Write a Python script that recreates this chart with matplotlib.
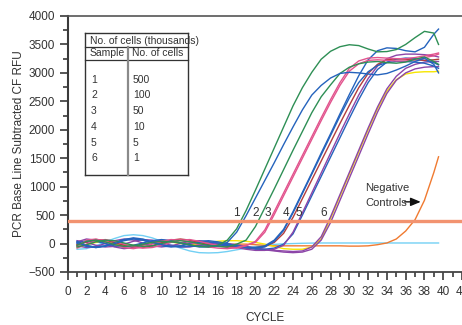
import matplotlib
matplotlib.use("Agg")
import matplotlib.pyplot as plt
from matplotlib.lines import Line2D
from matplotlib.ticker import MultipleLocator

plt.rcParams['font.family'] = ['Liberation Sans Narrow', 'Liberation Sans', 'DejaVu Sans']

# ---------------- data ----------------
CYCLES = list(range(1, 40)) + [39.5]

G1 = [-30, 40, 60, 30, -20, -50, -40, -10, 20, 40, 30, 10, -20, -50, -60, -30,
      60, 260, 580, 940, 1310, 1680, 2050, 2420, 2740, 3010, 3240, 3380, 3460, 3495,
      3480, 3420, 3370, 3375, 3410, 3500, 3620, 3730, 3700, 3500]
B1 = [20, -40, -60, -40, 0, 50, 80, 60, 20, -20, -50, -60, -50, -40, -50, -40,
      20, 200, 490, 800, 1110, 1420, 1740, 2050, 2350, 2610, 2780, 2910, 2990, 3010,
      3000, 2980, 2965, 2990, 3050, 3120, 3200, 3260, 3150, 3000]
G2 = [-60, -20, 30, 60, 50, 10, -30, -50, -40, 0, 40, 50, 30, 0, -30, -50,
      -60, -10, 60, 300, 630, 960, 1300, 1640, 1970, 2300, 2580, 2790, 2990, 3100,
      3160, 3190, 3200, 3180, 3170, 3190, 3240, 3280, 3200, 3150]
P1 = [-80, -10, 50, 70, 40, -10, -60, -80, -70, -30, 20, 60, 70, 40, 0, -40,
      -70, -80, -40, 40, 240, 560, 890, 1220, 1550, 1880, 2210, 2530, 2830, 3080,
      3210, 3260, 3270, 3260, 3250, 3250, 3270, 3300, 3330, 3350]
P2 = [-50, 60, 80, 40, -20, -70, -90, -60, -10, 40, 70, 60, 20, -20, -60, -80,
      -90, -70, -30, 20, 200, 510, 840, 1170, 1500, 1830, 2160, 2480, 2780, 3030,
      3160, 3220, 3230, 3220, 3210, 3210, 3230, 3270, 3300, 3330]
B2 = [40, -30, -70, -50, 10, 70, 100, 80, 30, -20, -50, -40, -10, 20, 30, 10,
      -20, -50, -70, -70, -40, 60, 250, 560, 900, 1240, 1590, 1930, 2280, 2620,
      2950, 3230, 3390, 3440, 3430, 3390, 3370, 3450, 3680, 3770]
B3 = [10, 50, 40, 0, -40, -60, -30, 10, 50, 70, 50, 10, -30, -60, -60, -40,
      -30, -40, -60, -80, -60, 40, 230, 540, 880, 1220, 1560, 1900, 2240, 2560,
      2830, 3020, 3130, 3180, 3200, 3200, 3190, 3170, 3120, 3080]
R1 = [-20, 30, 70, 60, 20, -30, -60, -70, -40, 10, 60, 80, 60, 20, -20, -40,
      -50, -60, -70, -70, -50, 20, 180, 460, 790, 1120, 1450, 1780, 2110, 2430,
      2740, 2990, 3150, 3230, 3250, 3240, 3230, 3220, 3230, 3240]
B4 = [0, -50, -70, -40, 20, 70, 90, 60, 10, -40, -60, -40, 0, 40, 50, 30,
      0, -40, -80, -100, -100, -80, -10, 170, 500, 840, 1180, 1520, 1860, 2200,
      2530, 2830, 3060, 3190, 3240, 3260, 3250, 3220, 3180, 3140]
PU1 = [30, 80, 60, 0, -60, -90, -70, -20, 30, 60, 50, 10, -30, -50, -40, -20,
       -40, -70, -100, -120, -120, -100, -30, 200, 540, 890, 1240, 1590, 1940, 2280,
       2610, 2900, 3120, 3250, 3310, 3330, 3330, 3320, 3300, 3280]
Y1 = [-60, -20, 20, 30, 10, -20, -30, -10, 20, 40, 30, 0, -20, -10, 20, 40,
      50, 50, 40, 20, -10, -50, -90, -100, -100, -60, 80, 440, 830, 1220,
      1610, 2000, 2370, 2680, 2880, 2980, 3010, 3020, 3020, 3030]
PU2 = [50, 20, -30, -60, -50, -10, 40, 70, 60, 20, -30, -60, -60, -30, 0, 10,
       0, -20, -50, -80, -110, -130, -150, -160, -150, -100, 60, 370, 760, 1150,
       1540, 1930, 2310, 2640, 2870, 3000, 3070, 3100, 3110, 3110]
PU3 = [-40, -70, -50, 0, 50, 80, 60, 10, -40, -60, -40, 0, 40, 50, 30, 0,
       -20, -40, -60, -80, -100, -120, -130, -140, -130, -60, 120, 470, 860, 1250,
       1640, 2030, 2400, 2720, 2940, 3080, 3150, 3190, 3200, 3200]
NEG_CYAN = [-100, -90, -40, 30, 90, 140, 155, 140, 100, 40,
            -20, -80, -130, -160, -165, -160, -140, -110, -80, -50,
            -30, -15, -5, 0, 5, 8, 10, 10, 10, 10,
            10, 10, 10, 10, 10, 10, 10, 10, 10, 10]
NEG_ORANGE = [-20, 30, 50, 30, -10, -40, -50, -30, 0, 30,
              40, 20, -10, -30, -40, -30, -20, -10, -10, -20,
              -30, -40, -40, -40, -40, -40, -40, -40, -40, -45,
              -45, -40, -20, 10, 80, 220, 420, 760, 1250, 1525]

THRESHOLD = 400
SAMPLE_LABELS = ['1', '2', '3', '4', '5', '6']
SAMPLE_LABEL_X = [18.0, 20.0, 21.3, 23.2, 24.6, 27.3]
TABLE_SAMPLES = ['1', '2', '3', '4', '5', '6']
TABLE_CELLS = ['500', '100', '50', '10', '5', '1']

GREEN = '#2e8f55'
BLUE = '#2563bd'
PINK = '#e2548e'
RED = '#b23c3c'
PURPLE = '#8c45a8'
YELLOW = '#f7e600'
CYAN = '#72d0f4'
ORANGE = '#f07a30'
THRESH_COLOR = '#f29370'
TXT = '#333333'

series = [
    (NEG_CYAN, CYAN), (NEG_ORANGE, ORANGE),
    (Y1, YELLOW), (PU2, PURPLE), (PU3, PURPLE),
    (B4, BLUE), (PU1, PURPLE), (R1, RED), (B3, BLUE), (B2, BLUE),
    (P2, PINK), (P1, PINK), (G2, GREEN), (B1, BLUE), (G1, GREEN),
]

# ---------------- figure ----------------
W, H = 462, 325
fig = plt.figure(figsize=(W / 100, H / 100), dpi=100)
ax = fig.add_axes([67.7 / W, 1 - 272 / H, 394.3 / W, 256 / H])

for vals, col in series:
    ax.plot(CYCLES, vals, color=col, lw=1.0, solid_joinstyle='round', zorder=2)

ax.axhline(THRESHOLD, color=THRESH_COLOR, lw=2.4, zorder=4)

for lab, xv in zip(SAMPLE_LABELS, SAMPLE_LABEL_X):
    ax.text(xv, THRESHOLD + 40, lab, ha='center', va='bottom', fontsize=8.5,
            color=TXT, zorder=5)

ax.text(31.66, 979, 'Negative', ha='left', va='center', fontsize=8, color=TXT)
ax.text(31.66, 715, 'Controls', ha='left', va='center', fontsize=8, color=TXT)
ax.annotate('', xy=(37.9, 733), xytext=(35.6, 733),
            arrowprops=dict(arrowstyle='-|>,head_length=0.6,head_width=0.25',
                            color='#111111', lw=1.0))

ax.set_xlim(0, 42)
ax.set_ylim(-500, 4000)
ax.xaxis.set_major_locator(MultipleLocator(2))
ax.xaxis.set_minor_locator(MultipleLocator(1))
ax.yaxis.set_major_locator(MultipleLocator(500))
ax.yaxis.set_minor_locator(MultipleLocator(250))

ax.spines['right'].set_visible(False)
ax.spines['left'].set_color('#3a3a3a')
ax.spines['left'].set_linewidth(1.5)
ax.spines['top'].set_color('#555555')
ax.spines['top'].set_linewidth(1.2)
ax.spines['bottom'].set_color('#444444')
ax.spines['bottom'].set_linewidth(1.3)

ax.tick_params(axis='both', which='major', length=6, width=1.2, color='#3a3a3a',
               labelsize=8.5, labelcolor=TXT, pad=3)
ax.tick_params(axis='both', which='minor', length=3.5, width=1.2, color='#3a3a3a')
ax.tick_params(axis='x', which='major', pad=4)

ax.set_ylabel('PCR Base Line Subtracted CF RFU', fontsize=8.5, color=TXT)
ax.yaxis.set_label_coords((19 - 67.7) / 394.3, 0.5)
ax.set_xlabel('CYCLE', fontsize=8.5, color=TXT)
ax.xaxis.set_label_coords(0.5, -(318 - 272) / 256)
ax.xaxis.label.set_va('center')
ax.yaxis.label.set_va('center')

# ---------------- table (figure pixel coordinates) ----------------
def fx(px):
    return px / W

def fy(py):
    return 1 - py / H

def fline(x0, y0, x1, y1, col='#333333', lw=1.0):
    fig.add_artist(Line2D([fx(x0), fx(x1)], [fy(y0), fy(y1)],
                          transform=fig.transFigure, color=col, lw=lw))

tl, tr, tdiv = 85, 188, 128
tt, th1, th2, tb = 33, 47, 60, 175
fline(tl, tt, tr, tt)
fline(tl, tb, tr, tb)
fline(tl, tt, tl, tb)
fline(tr, tt, tr, tb)
fline(tl, th1, tr, th1, lw=0.9)
fline(tl, th2, tr, th2, lw=0.9)
fline(tdiv, th1, tdiv, tb, col='#8a8a8a', lw=1.6)

fs_t = 7.5
fig.text(fx(90), fy(40.5), 'No. of cells (thousands)', ha='left', va='center',
         fontsize=fs_t, color=TXT)
fig.text(fx(90), fy(53.5), 'Sample', ha='left', va='center', fontsize=fs_t, color=TXT)
fig.text(fx(132), fy(53.5), 'No. of cells', ha='left', va='center', fontsize=fs_t, color=TXT)
row_y = [80, 95.5, 111, 127, 142.5, 158]
for s, c, ry in zip(TABLE_SAMPLES, TABLE_CELLS, row_y):
    fig.text(fx(91), fy(ry), s, ha='left', va='center', fontsize=fs_t, color=TXT)
    fig.text(fx(133), fy(ry), c, ha='left', va='center', fontsize=fs_t, color=TXT)

fig.savefig('out.png', dpi=100)
